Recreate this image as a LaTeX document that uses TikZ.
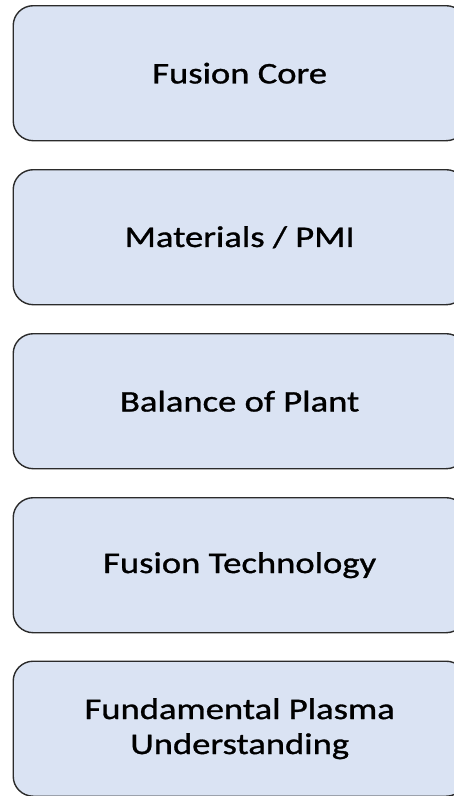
\documentclass[tikz,border=0pt]{standalone}
\usepackage{fontspec}
\setmainfont[FakeStretch=1.22,FakeBold=1]{Carlito}
\definecolor{boxfill}{HTML}{DAE3F3}
\definecolor{boxline}{HTML}{2B2B2B}
\tikzset{
  panel/.style={draw=boxline, fill=boxfill, line width=1.4pt, rounded corners=20pt,
    minimum width=453pt, minimum height=135pt, anchor=north west, inner sep=0pt,
    align=center, font=\fontsize{30}{35}\selectfont, text=black}
}
\begin{document}
\begin{tikzpicture}[x=1pt,y=-1pt]
\useasboundingbox (0,0) rectangle (454,796);
\begin{scope}
\clip (0,0) rectangle (454,796);
\node[panel] (core) at (12.5,5) {Fusion Core};
\node[panel] (mat) at (12.5,169) {Materials / PMI};
\node[panel] (bop) at (12.5,333) {Balance of Plant};
\node[panel] (tech) at (12.5,497) {Fusion Technology};
\node[panel] (fund) at (12.5,660.5) {Fundamental Plasma\\Understanding};
\end{scope}
\end{tikzpicture}
\end{document}
